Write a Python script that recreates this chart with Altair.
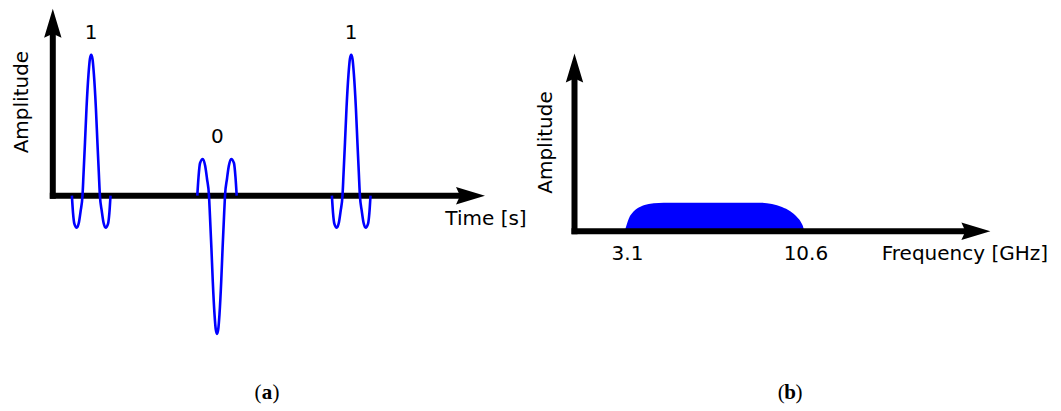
import altair as alt
import pandas as pd

# ---------------- data: panel (a), time-domain pulses ----------------
pulse1_t = [1.91, 2.02, 2.16, 2.39, 2.61, 2.78, 2.97, 3.07, 3.22, 3.37, 3.57, 3.71, 3.84,
            3.97, 4.11, 4.31, 4.46, 4.61, 4.71, 4.90, 5.07, 5.29, 5.52, 5.66, 5.77]
pulse1_a = [0, -0.12, -0.20, -0.227, -0.19, -0.11, 0, 0.15, 0.38, 0.62, 0.86, 0.97, 1.0,
            0.97, 0.86, 0.62, 0.38, 0.15, 0, -0.11, -0.19, -0.227, -0.20, -0.12, 0]
pulse0_t = [14.45, 14.57, 14.72, 15.00, 15.24, 15.42, 15.62, 15.72, 15.86, 16.00, 16.17, 16.30, 16.42,
            16.54, 16.67, 16.84, 16.98, 17.12, 17.22, 17.42, 17.60, 17.84, 18.12, 18.27, 18.39]
pulse0_a = [0, 0.13, 0.23, 0.26, 0.21, 0.12, 0, -0.15, -0.37, -0.61, -0.84, -0.95, -0.98,
            -0.95, -0.84, -0.61, -0.37, -0.15, 0, 0.12, 0.21, 0.26, 0.23, 0.13, 0]
pulse2_t = [27.91, 28.02, 28.16, 28.39, 28.61, 28.78, 28.97, 29.07, 29.22, 29.37, 29.57, 29.71, 29.84,
            29.97, 30.11, 30.31, 30.46, 30.61, 30.71, 30.90, 31.07, 31.29, 31.52, 31.66, 31.77]
pulse2_a = [0, -0.12, -0.20, -0.227, -0.19, -0.11, 0, 0.15, 0.38, 0.62, 0.86, 0.97, 1.0,
            0.97, 0.86, 0.62, 0.38, 0.15, 0, -0.11, -0.19, -0.227, -0.20, -0.12, 0]
bit_labels = ["1", "0", "1"]
bit_label_t = [3.84, 16.45, 29.84]
bit_label_a = [1.112, 0.374, 1.112]

# ---------------- data: panel (b), spectrum ----------------
spec_freq = [3.10, 3.14, 3.28, 3.49, 3.77, 4.12, 4.54, 4.96, 8.88, 9.30, 9.72, 10.07, 10.35, 10.53, 10.63, 10.65]
spec_amp = [0, 0.09, 0.44, 0.70, 0.86, 0.955, 0.99, 1.0, 1.0, 0.955, 0.85, 0.70, 0.50, 0.30, 0.09, 0]
freq_ticks = ["3.1", "10.6"]
freq_tick_values = [3.1, 10.6]

# ---------------- layout constants ----------------
W_A, W_B, H = 522, 514, 390
FONT = "DejaVu Sans"
SERIF = "Liberation Serif"
FS = 20
BLUE = "#0000FF"
AXW = 6
ARROW_SIZE = 841
UP_PATH = "M0,-1 L0.6,1 L0,0.72 L-0.6,1 Z"
RIGHT_PATH = "M1,0 L-1,0.6 L-0.72,0 L-1,-0.6 Z"

# panel (a) scales
xA = alt.Scale(domain=[-4.48, 47.72], nice=False, zero=False)
yA = alt.Scale(domain=[-1.449, 1.317], nice=False, zero=False)
# panel (b) scales
xB = alt.Scale(domain=[-0.534, 21.07], nice=False, zero=False)
yB = alt.Scale(domain=[-5.899, 7.738], nice=False, zero=False)


def X(field, scale):
    return alt.X(field, type="quantitative", scale=scale, axis=None)


def Y(field, scale):
    return alt.Y(field, type="quantitative", scale=scale, axis=None)


def axes_layers(xs, ys, x0, x_end, x_arrow, y_end, y_arrow):
    rules = pd.DataFrame({"x": [x0, x0], "x2": [x0, x_end], "y": [0, 0], "y2": [y_end, 0]})
    rule = alt.Chart(rules).mark_rule(color="black", strokeWidth=AXW, strokeCap="square").encode(
        x=X("x", xs), x2="x2:Q", y=Y("y", ys), y2="y2:Q")
    up = alt.Chart(pd.DataFrame({"x": [x0], "y": [y_arrow]})).mark_point(
        shape=UP_PATH, size=ARROW_SIZE, filled=True, color="black", opacity=1, strokeWidth=0
    ).encode(x=X("x", xs), y=Y("y", ys))
    right = alt.Chart(pd.DataFrame({"x": [x_arrow], "y": [0]})).mark_point(
        shape=RIGHT_PATH, size=ARROW_SIZE, filled=True, color="black", opacity=1, strokeWidth=0
    ).encode(x=X("x", xs), y=Y("y", ys))
    return [rule, up, right]


def caption_layers(letter, xc, yc, xs, ys):
    d = pd.DataFrame({"x": [xc], "y": [yc], "o": ["("], "l": [letter], "c": [")"]})
    base = alt.Chart(d).encode(x=X("x", xs), y=Y("y", ys))
    o = base.mark_text(font=SERIF, fontSize=21, align="right", baseline="alphabetic", dx=-5.4,
                       color="black").encode(text="o:N")
    l = base.mark_text(font=SERIF, fontSize=21, fontWeight="bold", align="center",
                       baseline="alphabetic", color="black").encode(text="l:N")
    c = base.mark_text(font=SERIF, fontSize=21, align="left", baseline="alphabetic", dx=5.4,
                       color="black").encode(text="c:N")
    return [o, l, c]


def text_layer(df, xs, ys, **kw):
    props = dict(font=FONT, fontSize=FS, color="black")
    props.update(kw)
    return alt.Chart(df).mark_text(**props).encode(x=X("x", xs), y=Y("y", ys), text="t:N")


# ---------------- panel (a) ----------------
pulses = pd.DataFrame({
    "t": pulse1_t + pulse0_t + pulse2_t,
    "a": pulse1_a + pulse0_a + pulse2_a,
    "pulse": ["p1"] * len(pulse1_t) + ["p0"] * len(pulse0_t) + ["p2"] * len(pulse2_t),
})
lines = alt.Chart(pulses).mark_line(color=BLUE, strokeWidth=2.6, interpolate="monotone").encode(
    x=X("t", xA), y=Y("a", yA), detail="pulse:N")

bits = text_layer(pd.DataFrame({"x": bit_label_t, "y": bit_label_a, "t": bit_labels}), xA, yA,
                  align="center", baseline="alphabetic")
time_lbl = text_layer(pd.DataFrame({"x": [43.32], "y": [-0.205], "t": ["Time [s]"]}), xA, yA,
                      align="center", baseline="alphabetic")
amp_lbl_a = text_layer(pd.DataFrame({"x": [-3.08], "y": [0.664], "t": ["Amplitude"]}), xA, yA,
                       align="center", baseline="middle", angle=270)

panel_a = alt.layer(
    *axes_layers(xA, yA, 0, 40.7, 41.77, 1.15, 1.223),
    lines, bits, time_lbl, amp_lbl_a,
    *caption_layers("a", 21.42, -1.445, xA, yA),
).properties(width=W_A, height=H)

# ---------------- panel (b) ----------------
spec = pd.DataFrame({"f": spec_freq, "a": spec_amp, "base": [0] * len(spec_freq)})
area = alt.Chart(spec).mark_area(color=BLUE, opacity=1, interpolate="monotone").encode(
    x=X("f", xB), y=Y("a", yB), y2="base:Q")

ticks_lbl = alt.Chart(pd.DataFrame({"x": freq_tick_values, "y": [-1.0, -1.0], "t": freq_ticks})).mark_text(
    font=FONT, fontSize=FS, color="black", align="center", baseline="alphabetic", dx=3
).encode(x=X("x", xB), y=Y("y", yB), text="t:N")
freq_lbl = text_layer(pd.DataFrame({"x": [17.41], "y": [-1.0], "t": ["Frequency [GHz]"]}), xB, yB,
                      align="center", baseline="alphabetic")
amp_lbl_b = text_layer(pd.DataFrame({"x": [-0.177], "y": [3.105], "t": ["Amplitude"]}), xB, yB,
                       align="center", baseline="middle", angle=270)

panel_b = alt.layer(
    area,
    *axes_layers(xB, yB, 1.0, 17.43, 17.87, 5.35, 5.71),
    ticks_lbl, freq_lbl, amp_lbl_b,
    *caption_layers("b", 10.06, -5.881, xB, yB),
).properties(width=W_B, height=H)

chart = alt.hconcat(panel_a, panel_b, spacing=6).properties(
    padding=0, background="white"
).configure_view(stroke=None)

chart.save("out.html", embed_options={"renderer": "svg", "actions": False})
